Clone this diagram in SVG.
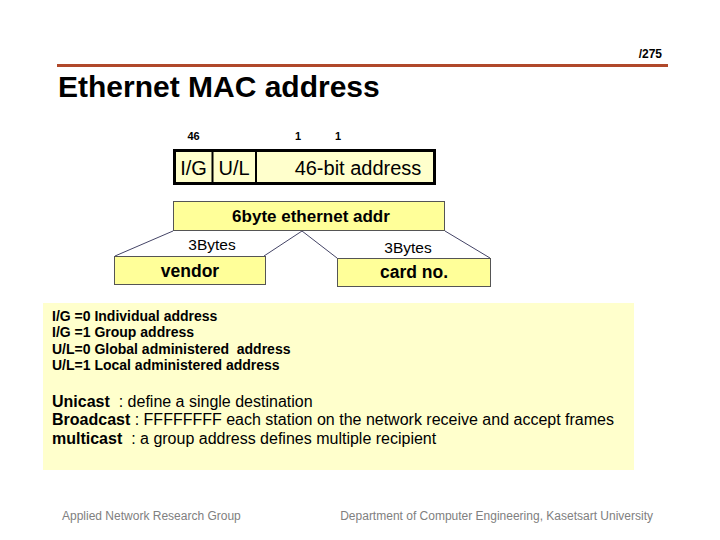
<svg xmlns="http://www.w3.org/2000/svg" width="720" height="540" viewBox="0 0 720 540">
<style>
text{font-family:"Liberation Sans",Arial,sans-serif;fill:#000}
.b{font-weight:bold}
.box{fill:#FFFF99;stroke:#555;stroke-width:1}
.conn{stroke:#444466;stroke-width:1;fill:none}
.foot{fill:#808080;font-size:12px}
</style>
<rect width="720" height="540" fill="#fff"/>
<line x1="57" y1="65.5" x2="668" y2="65.5" stroke="#B0482A" stroke-width="3"/>
<text x="662" y="58" class="b" font-size="12" text-anchor="end">/275</text>
<text x="58" y="97" class="b" font-size="30">Ethernet MAC address</text>

<g id="bitwidths">
<text x="193.5" y="140" class="b" font-size="11" text-anchor="middle">46</text>
<text x="298" y="140" class="b" font-size="11" text-anchor="middle">1</text>
<text x="338" y="140" class="b" font-size="11" text-anchor="middle">1</text>
</g>

<g id="frame">
<rect x="174.5" y="150.5" width="260" height="33" fill="#FFFFCC" stroke="#000" stroke-width="3"/>
<line x1="212.5" y1="151" x2="212.5" y2="183" stroke="#000" stroke-width="2"/>
<line x1="256" y1="151" x2="256" y2="183" stroke="#000" stroke-width="2"/>
<text x="193.5" y="174.5" font-size="20" text-anchor="middle">I/G</text>
<text x="234" y="174.5" font-size="20" text-anchor="middle">U/L</text>
<text x="358" y="174.5" font-size="20" text-anchor="middle">46-bit address</text>
</g>

<g id="connectors">
<line class="conn" x1="173" y1="231" x2="115" y2="256"/>
<line class="conn" x1="302" y1="231" x2="264" y2="256"/>
<line class="conn" x1="302" y1="231" x2="337" y2="258"/>
<line class="conn" x1="445" y1="231" x2="490" y2="258"/>
<text x="212" y="250" font-size="15.5" text-anchor="middle">3Bytes</text>
<text x="408" y="253" font-size="15.5" text-anchor="middle">3Bytes</text>
</g>

<g id="addr6">
<rect class="box" x="173.5" y="201.5" width="271" height="29"/>
<text x="311" y="222" class="b" font-size="17" text-anchor="middle">6byte ethernet addr</text>
</g>
<g id="vendor">
<rect class="box" x="114.5" y="256.5" width="151" height="28"/>
<text x="190" y="277" class="b" font-size="17.5" text-anchor="middle">vendor</text>
</g>
<g id="cardno">
<rect class="box" x="337.5" y="258.5" width="153" height="28"/>
<text x="414" y="278" class="b" font-size="17.5" text-anchor="middle">card no.</text>
</g>

<g id="notes">
<rect x="43" y="303" width="591" height="167" fill="#FFFFCC"/>
<text x="52" y="321" class="b" font-size="14">I/G =0 Individual address</text>
<text x="52" y="337" class="b" font-size="14">I/G =1 Group address</text>
<text x="52" y="354" class="b" font-size="14" xml:space="preserve">U/L=0 Global administered  address</text>
<text x="52" y="370" class="b" font-size="14">U/L=1 Local administered address</text>
<text x="52" y="407" font-size="16" xml:space="preserve"><tspan class="b">Unicast</tspan>  : define a single destination</text>
<text x="52" y="425" font-size="16" xml:space="preserve"><tspan class="b">Broadcast</tspan> : FFFFFFFF each station on the network receive and accept frames</text>
<text x="52" y="444" font-size="16" xml:space="preserve"><tspan class="b">multicast</tspan>  : a group address defines multiple recipient</text>
</g>

<text x="62" y="520" class="foot">Applied Network Research Group</text>
<text x="653" y="520" class="foot" text-anchor="end">Department of Computer Engineering, Kasetsart University</text>
</svg>
